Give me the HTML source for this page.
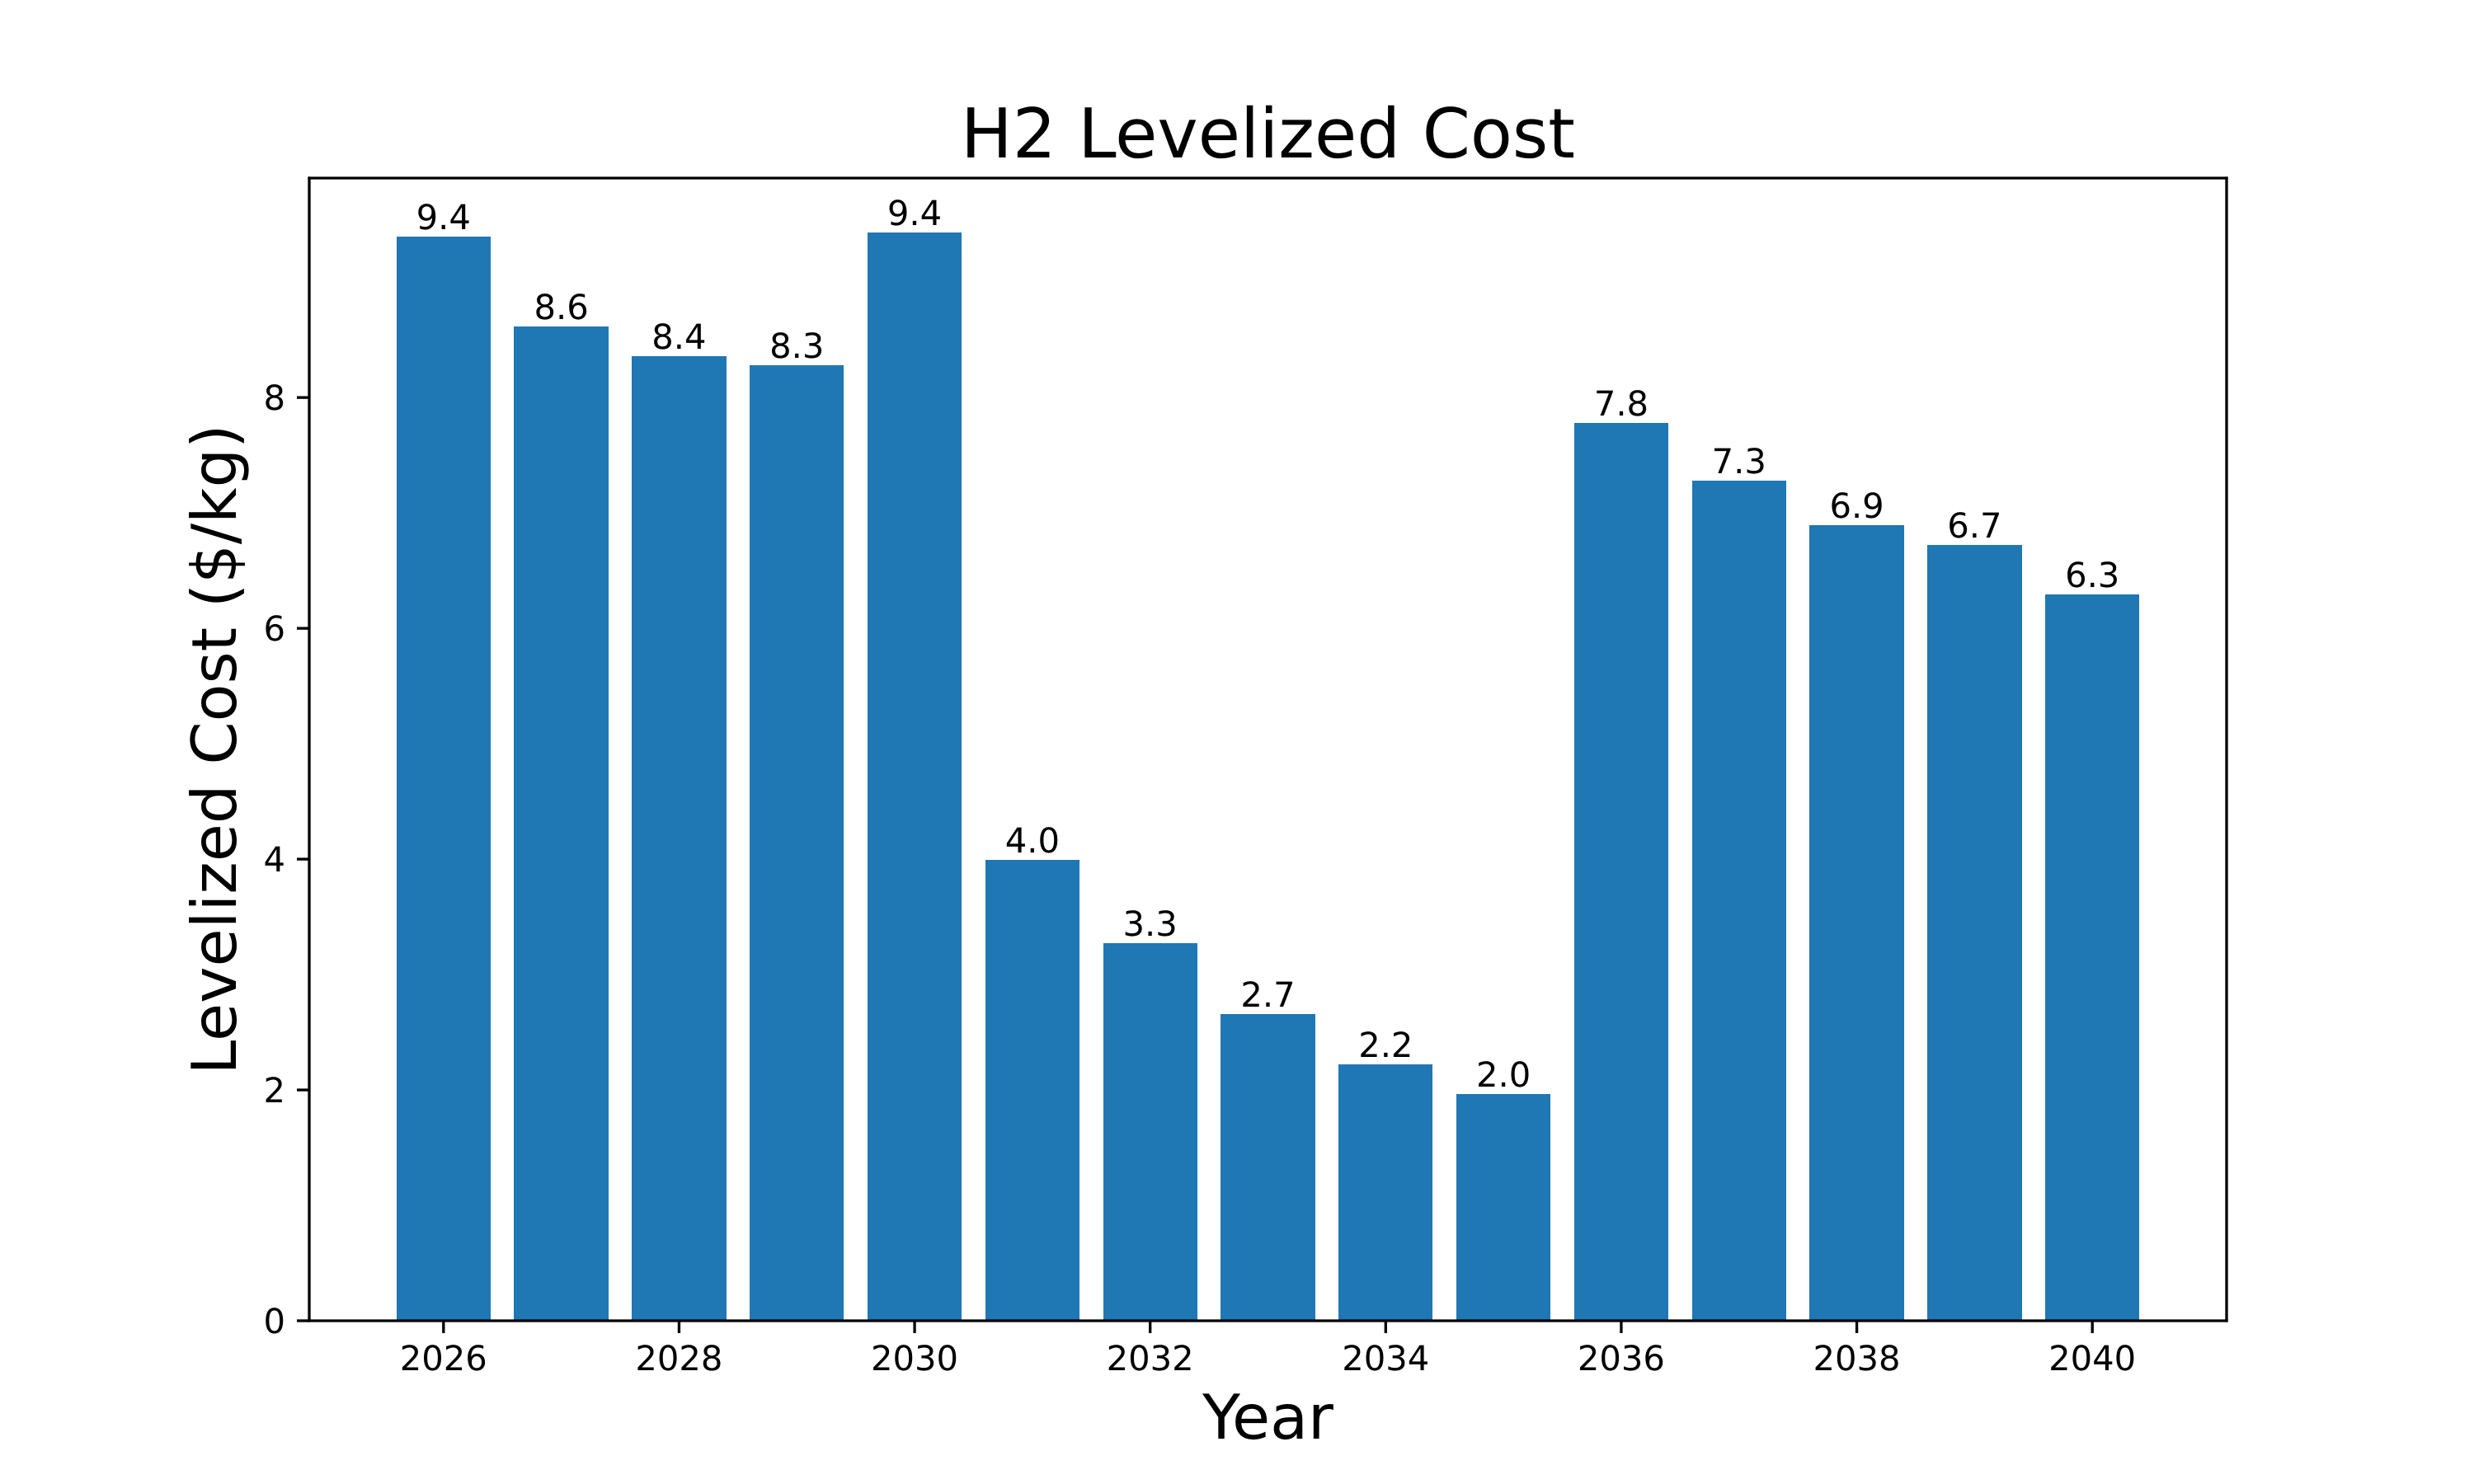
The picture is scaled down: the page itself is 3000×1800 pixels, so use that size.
<!DOCTYPE html>
<html lang="en">
<head>
<meta charset="utf-8">
<title>H2 Levelized Cost</title>
<style>
  html, body { margin: 0; padding: 0; background: #ffffff; }
  svg { display: block; }
  text { font-family: "DejaVu Sans", "Liberation Sans", sans-serif; fill: #000000; text-rendering: geometricPrecision; }
</style>
</head>
<body>
<svg id="chart" xmlns="http://www.w3.org/2000/svg" width="3000" height="1800" viewBox="0 0 3000 1800">
  <rect x="0" y="0" width="3000" height="1800" fill="#ffffff"/>
  <g id="bars"></g>
  <g id="bar-labels"></g>
  <g id="x-axis"></g>
  <g id="y-axis"></g>
  <g stroke="#000000" stroke-width="3.33" stroke-linecap="square" fill="none">
    <line x1="375" y1="216" x2="375" y2="1602"/>
    <line x1="2700" y1="216" x2="2700" y2="1602"/>
    <line x1="375" y1="216" x2="2700" y2="216"/>
    <line x1="375" y1="1602" x2="2700" y2="1602"/>
  </g>
  <text x="1537.5" y="191" font-size="83.33" text-anchor="middle">H2 Levelized Cost</text>
  <text x="1537.5" y="1745" font-size="75" text-anchor="middle">Year</text>
  <text transform="translate(286 909) rotate(-90)" font-size="75" text-anchor="middle">Levelized Cost ($/kg)</text>
</svg>
<script>
const years = [2026, 2027, 2028, 2029, 2030, 2031, 2032, 2033, 2034, 2035, 2036, 2037, 2038, 2039, 2040];
const costs = [9.394, 8.615, 8.358, 8.28, 9.43, 3.993, 3.272, 2.658, 2.222, 1.965, 7.78, 7.28, 6.894, 6.722, 6.294];
const xTickYears = [2026, 2028, 2030, 2032, 2034, 2036, 2038, 2040];
const yTickValues = [0, 2, 4, 6, 8];

const NS = 'http://www.w3.org/2000/svg';
const plotLeft = 375, plotRight = 2700, plotTop = 216, plotBottom = 1602;
const barWidth = 0.8;
const tickSize = 15;
const minYear = Math.min.apply(null, years), maxYear = Math.max.apply(null, years);
const xSpan = (maxYear - minYear) + barWidth;
const xMin = minYear - barWidth / 2 - 0.05 * xSpan;
const xMax = maxYear + barWidth / 2 + 0.05 * xSpan;
const yMax = 1.05 * Math.max.apply(null, costs);

function xScale(v) { return plotLeft + (v - xMin) / (xMax - xMin) * (plotRight - plotLeft); }
function yScale(v) { return plotBottom - v / yMax * (plotBottom - plotTop); }

const barsGroup = document.getElementById('bars');
const labelsGroup = document.getElementById('bar-labels');
const xAxisGroup = document.getElementById('x-axis');
const yAxisGroup = document.getElementById('y-axis');

years.forEach(function (year, i) {
  const left = Math.round(xScale(year - barWidth / 2));
  const right = Math.round(xScale(year + barWidth / 2));
  const top = Math.round(yScale(costs[i]));
  const bar = document.createElementNS(NS, 'rect');
  
  
  bar.setAttribute('x', left);
  bar.setAttribute('y', top);
  bar.setAttribute('width', right - left);
  bar.setAttribute('height', plotBottom - top);
  bar.setAttribute('fill', '#1f77b4');
  bar.setAttribute('shape-rendering', 'crispEdges');
  barsGroup.appendChild(bar);

  const label = document.createElementNS(NS, 'text');
  
  
  label.setAttribute('x', xScale(year));
  label.setAttribute('y', Math.round(yScale(costs[i]) - 9));
  label.setAttribute('font-size', '41.67');
  label.setAttribute('text-anchor', 'middle');
  label.textContent = costs[i].toFixed(1);
  labelsGroup.appendChild(label);
});

xTickYears.forEach(function (year) {
  const x = xScale(year);
  const tick = document.createElementNS(NS, 'line');
  
  
  tick.setAttribute('x1', x);
  tick.setAttribute('x2', x);
  tick.setAttribute('y1', plotBottom);
  tick.setAttribute('y2', plotBottom + tickSize);
  tick.setAttribute('stroke', '#000000');
  tick.setAttribute('stroke-width', '3.33');
  xAxisGroup.appendChild(tick);

  const text = document.createElementNS(NS, 'text');
  
  
  text.setAttribute('x', x);
  text.setAttribute('y', 1662);
  text.setAttribute('font-size', '41.67');
  text.setAttribute('text-anchor', 'middle');
  text.textContent = String(year);
  xAxisGroup.appendChild(text);
});

yTickValues.forEach(function (value) {
  const y = yScale(value);
  const tick = document.createElementNS(NS, 'line');
  
  
  tick.setAttribute('x1', plotLeft - tickSize);
  tick.setAttribute('x2', plotLeft);
  tick.setAttribute('y1', y);
  tick.setAttribute('y2', y);
  tick.setAttribute('stroke', '#000000');
  tick.setAttribute('stroke-width', '3.33');
  yAxisGroup.appendChild(tick);

  const text = document.createElementNS(NS, 'text');
  
  
  text.setAttribute('x', 346);
  text.setAttribute('y', y + 15);
  text.setAttribute('font-size', '41.67');
  text.setAttribute('text-anchor', 'end');
  text.textContent = String(value);
  yAxisGroup.appendChild(text);
});
</script>
</body>
</html>
